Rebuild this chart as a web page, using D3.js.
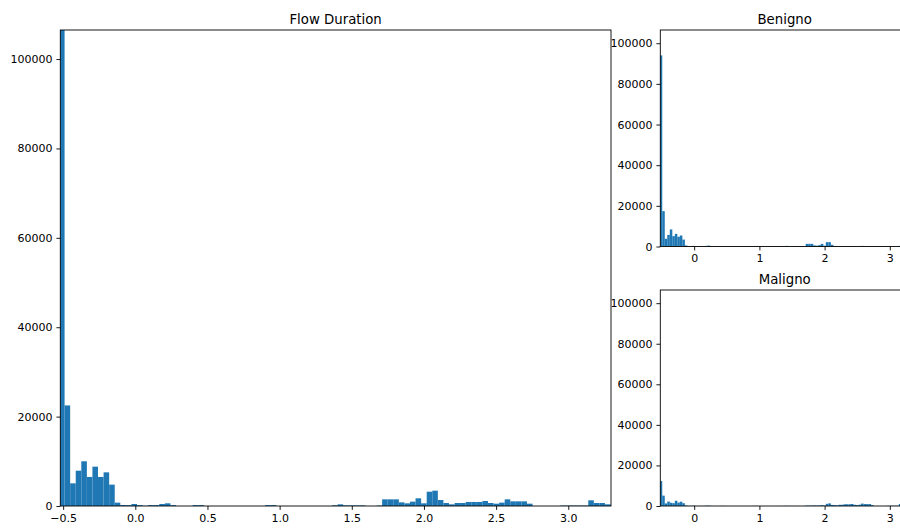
<!DOCTYPE html>
<html>
<head>
<meta charset="utf-8">
<script src="https://cdn.jsdelivr.net/npm/d3@7"></script>
<style>
  body { margin: 0; background: #fff; }
  svg { font-family: "DejaVu Sans", sans-serif; }
</style>
</head>
<body>
<script>
var w = 900;
var h = 530;

// histogram bins (100 bins, same edges for all three panels)
var binStart = -0.5286;
var binWidth = 0.0386;

// counts
var countsAll = [
  106500, 22500, 5070, 7900, 10000, 6500, 8800, 6500, 7530, 4780,
  750, 220, 200, 450, 200, 50, 200, 200, 450, 600,
  200, 0, 0, 0, 200, 200, 0, 0, 0, 0,
  0, 0, 0, 0, 0, 0, 0, 200, 200, 0,
  0, 0, 0, 0, 0, 0, 0, 0, 0, 150,
  370, 130, 130, 130, 130, 0, 0, 100, 1490, 1490,
  1490, 820, 600, 970, 1720, 600, 3200, 3430, 1340, 670,
  370, 670, 670, 900, 900, 900, 1120, 670, 520, 750,
  1490, 1040, 1040, 1040, 520, 0, 0, 0, 0, 0,
  100, 100, 100, 100, 100, 1270, 670, 670, 370, 300
];
var countsBenigno = [
  94000, 17400, 3800, 5700, 8400, 5100, 6200, 4800, 5400, 3400,
  500, 150, 150, 300, 150, 30, 150, 150, 300, 450,
  150, 0, 0, 0, 150, 150, 0, 0, 0, 0,
  0, 0, 0, 0, 0, 0, 0, 150, 150, 0,
  0, 0, 0, 0, 0, 0, 0, 0, 0, 100,
  300, 100, 100, 100, 100, 0, 0, 80, 1300, 1300,
  1300, 550, 400, 700, 1300, 400, 2130, 2130, 820, 170,
  70, 70, 70, 50, 50, 50, 120, 70, 70, 100,
  300, 90, 90, 90, 70, 0, 0, 0, 0, 0,
  20, 20, 20, 20, 20, 300, 150, 150, 100, 80
];
var countsMaligno = [
  12300, 5100, 1270, 2200, 1600, 1400, 2600, 1700, 2130, 1380,
  250, 70, 50, 150, 50, 20, 50, 50, 150, 150,
  50, 0, 0, 0, 50, 50, 0, 0, 0, 0,
  0, 0, 0, 0, 0, 0, 0, 50, 50, 0,
  0, 0, 0, 0, 0, 0, 0, 0, 0, 50,
  70, 30, 30, 30, 30, 0, 0, 20, 190, 190,
  190, 270, 200, 270, 420, 200, 1070, 1300, 520, 500,
  300, 600, 600, 850, 850, 850, 1000, 600, 450, 650,
  1190, 950, 950, 950, 450, 0, 0, 0, 0, 0,
  80, 80, 80, 80, 80, 970, 520, 520, 270, 220
];

var xDomain = [-0.5197, 3.296];
var yDomain = [0, 106500];
var mainXTicks = [-0.5, 0, 0.5, 1, 1.5, 2, 2.5, 3];
var smallXTicks = [0, 1, 2, 3];
var yTicks = [0, 20000, 40000, 60000, 80000, 100000];

var svg = d3.select('body')
  .append('svg')
  .attr('width', w)
  .attr('height', h);

function panel(opts) {
  var x = d3.scaleLinear().domain(xDomain).range([opts.left, opts.right]);
  var y = d3.scaleLinear().domain(yDomain).range([opts.bottom, opts.top]);
  var g = svg.append('g');

  var clipId = 'clip-' + opts.id;
  svg.append('clipPath').attr('id', clipId)
    .append('rect')
    .attr('x', opts.left).attr('y', opts.top)
    .attr('width', opts.right - opts.left)
    .attr('height', opts.bottom - opts.top);

  var bins = opts.counts.map(function(c, i) {
    return { x0: binStart + i * binWidth, x1: binStart + (i + 1) * binWidth, c: c };
  });

  g.append('g')
    .attr('clip-path', 'url(#' + clipId + ')')
    .selectAll('rect')
    .data(bins.filter(function(d) { return d.c > 0; }))
    .enter()
    .append('rect')
    .attr('x', function(d) { return x(d.x0); })
    .attr('width', function(d) { return x(d.x1) - x(d.x0); })
    .attr('y', function(d) { return y(d.c); })
    .attr('height', function(d) { return y(0) - y(d.c); })
    .attr('fill', '#1f77b4');

  var xAxis = d3.axisBottom(x)
    .tickValues(opts.xTicks)
    .tickFormat(opts.xFormat)
    .tickSizeOuter(0)
    .tickSize(3.9)
    .tickPadding(3.9);
  var yAxis = d3.axisLeft(y)
    .tickValues(yTicks)
    .tickFormat(d3.format('d'))
    .tickSizeOuter(0)
    .tickSize(3.9)
    .tickPadding(3.9);

  var gx = g.append('g')
    .attr('transform', 'translate(0,' + opts.bottom + ')')
    .call(xAxis);
  var gy = g.append('g')
    .attr('transform', 'translate(' + opts.left + ',0)')
    .call(yAxis);
  [gx, gy].forEach(function(a) {
    a.select('.domain').remove();
    a.selectAll('line').attr('stroke', '#000').attr('stroke-width', 0.9);
    a.selectAll('text')
      .attr('font-size', '11px')
      .attr('fill', '#000')
      .attr('font-family', '"DejaVu Sans", sans-serif');
  });

  // spines
  g.append('rect')
    .attr('x', opts.left).attr('y', opts.top)
    .attr('width', opts.right - opts.left)
    .attr('height', opts.bottom - opts.top)
    .attr('fill', 'none')
    .attr('stroke', '#000')
    .attr('stroke-width', 0.9);

  g.append('text')
    .attr('x', (opts.left + opts.right) / 2)
    .attr('y', opts.top - 6.5)
    .attr('text-anchor', 'middle')
    .attr('font-size', '13.3px')
    .attr('fill', '#000')
    .text(opts.title);
}

panel({
  id: 'all', title: 'Flow Duration', counts: countsAll,
  left: 60.3, right: 611, top: 30, bottom: 506,
  xTicks: mainXTicks, xFormat: d3.format('.1f')
});
panel({
  id: 'ben', title: 'Benigno', counts: countsBenigno,
  left: 660.3, right: 909.1, top: 30, bottom: 246.5,
  xTicks: smallXTicks, xFormat: d3.format('d')
});
panel({
  id: 'mal', title: 'Maligno', counts: countsMaligno,
  left: 660.3, right: 909.1, top: 290, bottom: 506,
  xTicks: smallXTicks, xFormat: d3.format('d')
});
</script>
</body>
</html>
